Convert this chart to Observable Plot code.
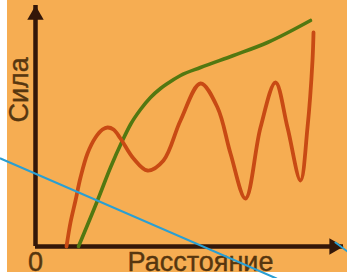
<!DOCTYPE html>
<html>
<head>
<meta charset="utf-8">
<script src="https://cdn.jsdelivr.net/npm/d3@7"></script>
<script src="https://cdn.jsdelivr.net/npm/@observablehq/plot@0.6"></script>
<style>
  html, body { margin: 0; padding: 0; background: #ffffff; }
  #wrap { position: relative; width: 347px; height: 278px; overflow: hidden; }
  #wrap svg { position: absolute; left: 0; top: 0; }
  #chart svg { clip-path: inset(0px 0px 6px 7px); }
</style>
</head>
<body>
<div id="wrap"><div id="chart"></div><div id="overlay"></div></div>
<script>
// ---- data (arbitrary units) ----
const redX = [31, 35, 40, 45, 52, 60, 67, 72, 78, 85, 98, 112, 128, 145, 165, 182, 195, 210, 225, 240, 252, 265, 272, 277, 278];
const redY = [0, 24, 46, 69, 93, 109, 117, 119, 117, 108, 88, 76, 86, 126, 163, 139, 93, 48, 119, 164, 119, 66, 119, 186, 214];
const greenX = [43, 62, 75, 87, 95, 105, 115, 125, 132, 145, 165, 198, 232, 275];
const greenY = [0, 46, 79, 106, 122, 137, 149, 158, 163, 171, 179, 191, 204, 226];
// blue stroke drawn across the picture (two segments)
const blueSeg = ["a", "a", "b", "b"];
const blueX = [-35, 241, 300, 312];
const blueY = [88, -32, 4, -5];
const xLabel = "Расстояние";
const yLabel = "Сила";
const xTicks = [0];
const xDomain = [0, 308];
const yDomain = [0, 241];

const red = redX.map((x, i) => ({x, y: redY[i]}));
const green = greenX.map((x, i) => ({x, y: greenY[i]}));
const blue = blueX.map((x, i) => ({x, y: blueY[i], s: blueSeg[i]}));

const common = {
  width: 347, height: 278,
  marginLeft: 35, marginRight: 4, marginTop: 5, marginBottom: 32,
  x: {domain: xDomain, axis: null},
  y: {domain: yDomain, axis: null}
};
const font = "'Liberation Sans', Arial, sans-serif";
const axisColor = "#331709";
const textColor = "#56360f";

const chart = Plot.plot({
  ...common,
  style: {background: "#f6ad52", fontFamily: font, overflow: "visible"},
  marks: [
    Plot.ruleY([yDomain[0]], {stroke: axisColor, strokeWidth: 4.5}),
    Plot.ruleX([xDomain[0]], {stroke: axisColor, strokeWidth: 4.5}),
    Plot.dot([{x: xDomain[0], y: yDomain[1]}], {x: "x", y: "y", symbol: "triangle", r: 6.1, fill: axisColor, stroke: null, dy: 9.4}),
    Plot.dot([{x: xDomain[1], y: yDomain[0]}], {x: "x", y: "y", symbol: "triangle", r: 6.1, fill: axisColor, stroke: null, rotate: 90, dx: -9.4}),
    Plot.line(green, {x: "x", y: "y", curve: "monotone-x", stroke: "#527811", strokeWidth: 3.6}),
    Plot.line(red, {x: "x", y: "y", curve: "catmull-rom", stroke: "#c84a14", strokeWidth: 3.8}),
    Plot.text(xTicks, {x: d => d, frameAnchor: "bottom", lineAnchor: "top", dy: 5, text: d => String(d), fontSize: 27, fill: textColor, stroke: textColor, strokeWidth: 0.4}),
    Plot.text([xLabel], {frameAnchor: "bottom", lineAnchor: "top", dy: 5, dx: 11, text: d => d, fontSize: 27, fill: textColor, stroke: textColor, strokeWidth: 0.4}),
    Plot.text([yLabel], {frameAnchor: "left", lineAnchor: "middle", rotate: -90, dx: -16.6, dy: -3.5, text: d => d, fontSize: 27, fill: textColor, stroke: textColor, strokeWidth: 0.4})
  ]
});
document.getElementById("chart").appendChild(chart);

const overlay = Plot.plot({
  ...common,
  style: {background: "transparent", overflow: "visible"},
  marks: [
    Plot.line(blue, {x: "x", y: "y", z: "s", stroke: "#2a9fd3", strokeWidth: 2})
  ]
});
document.getElementById("overlay").appendChild(overlay);
</script>
</body>
</html>
